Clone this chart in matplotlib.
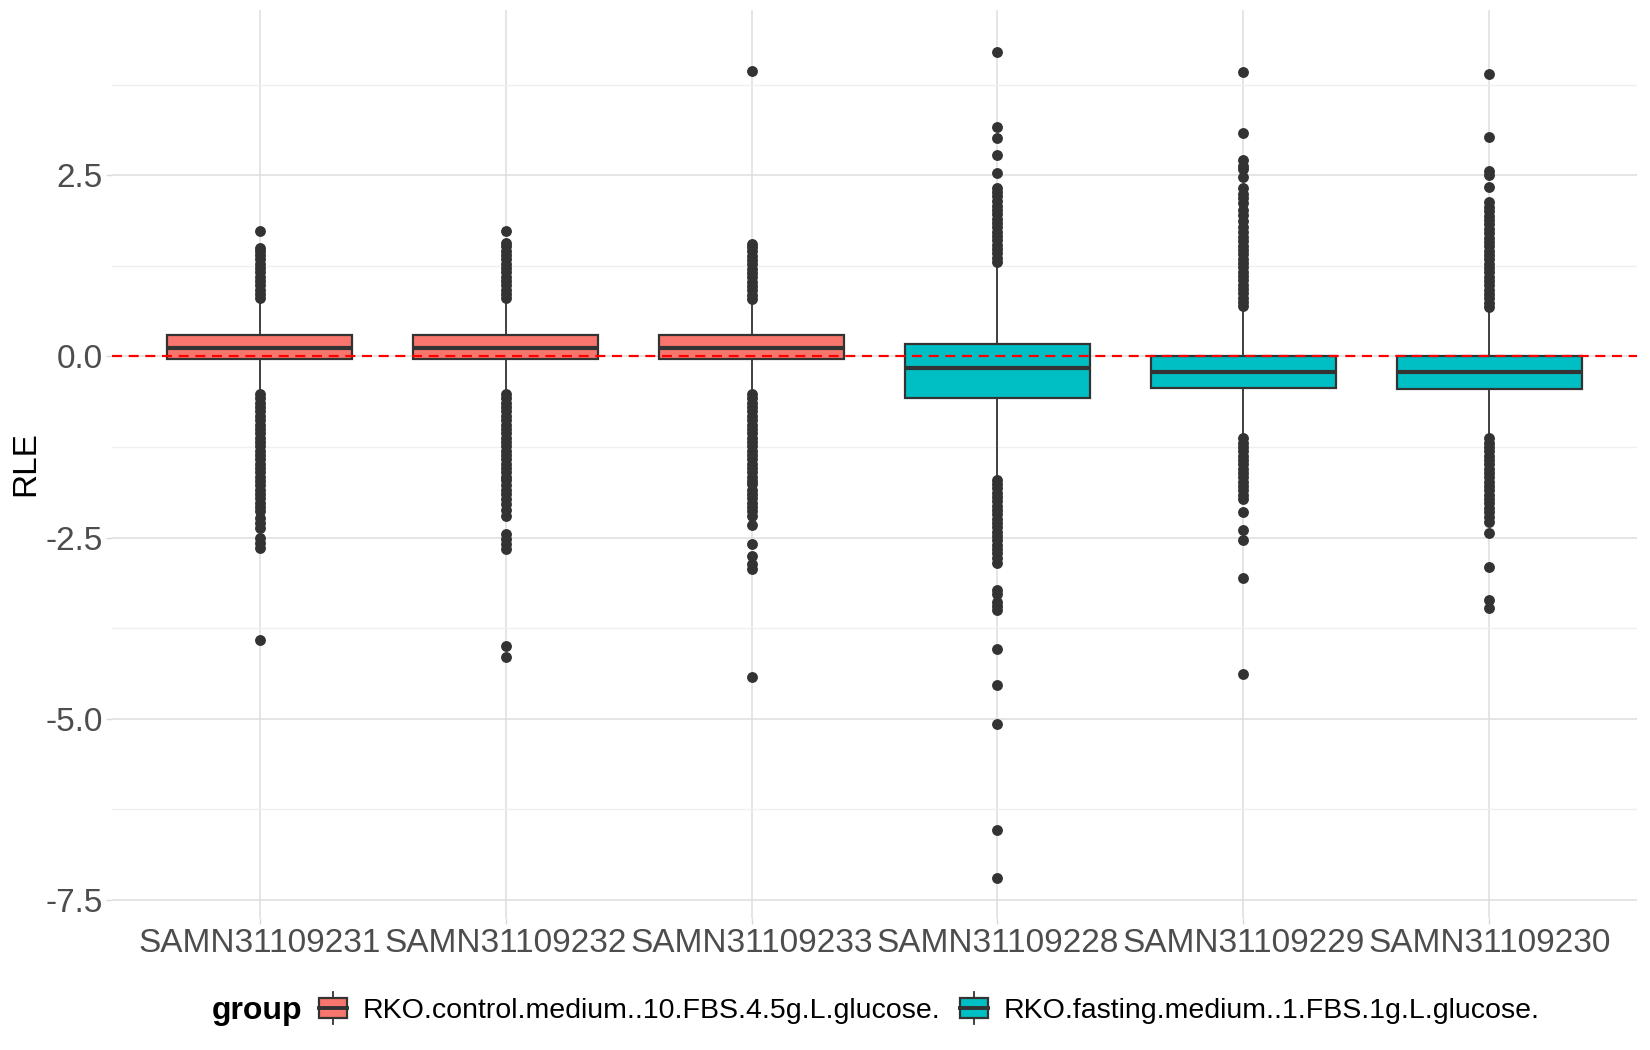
import numpy as np
import matplotlib
matplotlib.use('Agg')
import matplotlib.pyplot as plt
from matplotlib.patches import Rectangle, Patch
from matplotlib.lines import Line2D
from matplotlib.legend_handler import HandlerBase

plt.rcParams['font.family'] = ['Liberation Sans', 'DejaVu Sans']

# samples and their groups
samples = ['SAMN31109231', 'SAMN31109232', 'SAMN31109233',
           'SAMN31109228', 'SAMN31109229', 'SAMN31109230']
groups = ['RKO.control.medium..10.FBS.4.5g.L.glucose.'] * 3 + \
         ['RKO.fasting.medium..1.FBS.1g.L.glucose.'] * 3
group_colors = {'RKO.control.medium..10.FBS.4.5g.L.glucose.': '#F8766D',
                'RKO.fasting.medium..1.FBS.1g.L.glucose.': '#00BFC4'}

# box statistics
q1 = [-0.03, -0.03, -0.03, -0.58, -0.44, -0.45]
med = [0.12, 0.12, 0.115, -0.16, -0.21, -0.21]
q3 = [0.30, 0.30, 0.29, 0.17, 0.01, 0.01]
whislo = [-0.48, -0.48, -0.49, -1.66, -1.09, -1.09]
whishi = [0.76, 0.76, 0.75, 1.26, 0.65, 0.65]

# outliers (dense runs approximated by closely spaced points)
out1 = [0.80, 0.86, 0.92, 0.98, 1.04, 1.10, 1.16, 1.22, 1.28, 1.34, 1.40, 1.46, 1.49, 1.73,
        -0.52, -0.58, -0.64, -0.70, -0.76, -0.82, -0.88, -0.94, -1.00, -1.06, -1.12, -1.18,
        -1.24, -1.30, -1.36, -1.42, -1.48, -1.54, -1.60, -1.66, -1.72, -1.78, -1.84, -1.90,
        -1.96, -2.02, -2.08, -2.13, -2.23, -2.30, -2.37, -2.51, -2.58, -2.65, -3.91]
out2 = [0.80, 0.86, 0.92, 0.98, 1.04, 1.10, 1.16, 1.22, 1.28, 1.34, 1.40, 1.46, 1.52, 1.57, 1.73,
        -0.52, -0.58, -0.64, -0.70, -0.76, -0.82, -0.88, -0.94, -1.00, -1.06, -1.12, -1.18,
        -1.24, -1.30, -1.36, -1.42, -1.48, -1.54, -1.60, -1.66, -1.70, -1.78, -1.84, -1.90,
        -1.97, -2.04, -2.12, -2.20, -2.45, -2.52, -2.59, -2.66, -3.99, -4.15]
out3 = [0.79, 0.85, 0.91, 0.97, 1.03, 1.09, 1.15, 1.21, 1.27, 1.33, 1.39, 1.45, 1.51, 1.55, 3.94,
        -0.52, -0.58, -0.64, -0.70, -0.76, -0.82, -0.88, -0.94, -1.00, -1.06, -1.12, -1.18,
        -1.24, -1.30, -1.36, -1.42, -1.48, -1.54, -1.60, -1.66, -1.72, -1.76, -1.84, -1.90,
        -1.96, -2.02, -2.08, -2.14, -2.20, -2.33, -2.59, -2.75, -2.87, -2.93, -4.42]
out4 = [1.30, 1.36, 1.42, 1.48, 1.54, 1.60, 1.66, 1.72, 1.78, 1.84, 1.90, 1.96, 2.02, 2.08,
        2.15, 2.21, 2.27, 2.32, 2.53, 2.78, 3.01, 3.17, 4.20,
        -1.70, -1.76, -1.82, -1.88, -1.94, -2.00, -2.06, -2.12, -2.18, -2.24, -2.30, -2.36,
        -2.42, -2.48, -2.54, -2.60, -2.66, -2.72, -2.78, -2.85, -3.22, -3.28, -3.39, -3.44,
        -3.50, -4.04, -4.53, -5.07, -6.54, -7.20]
out5 = [0.69, 0.75, 0.81, 0.87, 0.93, 0.99, 1.05, 1.11, 1.17, 1.23, 1.29, 1.35, 1.41, 1.47,
        1.53, 1.59, 1.65, 1.71, 1.79, 1.87, 1.95, 2.02, 2.11, 2.19, 2.24, 2.32, 2.48, 2.58,
        2.63, 2.71, 3.08, 3.93,
        -1.13, -1.19, -1.25, -1.31, -1.37, -1.43, -1.49, -1.55, -1.61, -1.67, -1.73, -1.79,
        -1.85, -1.91, -1.97, -2.15, -2.39, -2.53, -3.06, -4.38]
out6 = [0.68, 0.74, 0.80, 0.86, 0.92, 0.98, 1.04, 1.10, 1.16, 1.22, 1.28, 1.34, 1.40, 1.46,
        1.52, 1.58, 1.64, 1.70, 1.76, 1.82, 1.88, 1.94, 2.00, 2.06, 2.13, 2.34, 2.50, 2.56,
        3.03, 3.90,
        -1.13, -1.19, -1.25, -1.31, -1.37, -1.43, -1.49, -1.55, -1.61, -1.67, -1.73, -1.79,
        -1.85, -1.91, -1.97, -2.03, -2.09, -2.15, -2.21, -2.29, -2.44, -2.90, -3.36, -3.47]
outliers = [out1, out2, out3, out4, out5, out6]


class BoxKey(HandlerBase):
    # little boxplot glyph like ggplot's legend key
    def create_artists(self, legend, orig_handle, xdescent, ydescent,
                       width, height, fontsize, trans):
        x0, y0 = -xdescent, -ydescent
        cx = x0 + width / 2
        whisk = Line2D([cx, cx], [y0 - 0.3 * height, y0 + 1.3 * height],
                       color='#333333', lw=1.3, transform=trans)
        box = Rectangle((x0, y0), width, height, facecolor=orig_handle.get_facecolor(),
                        edgecolor='#333333', lw=1.6, transform=trans)
        mid = Line2D([x0, x0 + width], [y0 + height / 2] * 2,
                     color='#333333', lw=2.8, transform=trans)
        return [whisk, box, mid]


fig = plt.figure(figsize=(16.5, 10.5), dpi=100)
ax = fig.add_axes([112 / 1650, 132 / 1050, 1525 / 1650, 908 / 1050])

stats = []
for i in range(len(samples)):
    stats.append(dict(med=med[i], q1=q1[i], q3=q3[i], whislo=whislo[i],
                      whishi=whishi[i], fliers=outliers[i], label=samples[i]))

pos = np.arange(1, len(samples) + 1)
bp = ax.bxp(stats, positions=pos, widths=0.75, patch_artist=True, showcaps=False,
            boxprops=dict(edgecolor='#333333', linewidth=1.6),
            medianprops=dict(color='#333333', linewidth=3.0),
            whiskerprops=dict(color='#333333', linewidth=1.3),
            flierprops=dict(marker='o', markerfacecolor='#333333', markeredgecolor='#333333',
                            markersize=6.8, linestyle='none'))
for patch, g in zip(bp['boxes'], groups):
    patch.set_facecolor(group_colors[g])

ax.axhline(0, color='red', lw=1.6, ls=(0, (4.5, 3)), zorder=10)

ax.set_xlim(0.4, 6.6)
ax.set_ylim(-7.75, 4.78)
ax.set_xticks(pos)
ax.set_xticklabels(samples)
ax.set_yticks([-7.5, -5.0, -2.5, 0.0, 2.5])
ax.set_yticklabels(['-7.5', '-5.0', '-2.5', '0.0', '2.5'])
ax.set_yticks([-6.25, -3.75, -1.25, 1.25, 3.75], minor=True)
ax.grid(which='major', color='#DEDEDE', lw=1.1)
ax.grid(which='minor', axis='y', color='#EFEFEF', lw=0.9)
ax.set_axisbelow(True)
for s in ax.spines.values():
    s.set_visible(False)
ax.tick_params(axis='both', which='major', length=4.5, width=1.0, color='#D9D9D9',
               labelsize=24, labelcolor='#4D4D4D')
ax.tick_params(axis='y', which='major', pad=2)
ax.tick_params(axis='x', which='major', pad=3)
ax.tick_params(which='minor', length=0)
ax.set_ylabel('RLE', fontsize=24, color='black', labelpad=3)

handles = [Patch(facecolor=group_colors[g]) for g in group_colors]
fig.legend(handles, list(group_colors), handler_map={Patch: BoxKey()},
           loc='center left', bbox_to_anchor=(319 / 1650, 1 - 1011 / 1050), ncol=2,
           frameon=False, borderpad=0, borderaxespad=0, fontsize=20.5,
           handlelength=0.98, handleheight=0.7, handletextpad=0.56, columnspacing=0.67)
fig.text(302 / 1650, 1 - 1011 / 1050, 'group', fontsize=23, fontweight='bold',
         ha='right', va='center')

fig.savefig('out.png', dpi=100, facecolor='white')
